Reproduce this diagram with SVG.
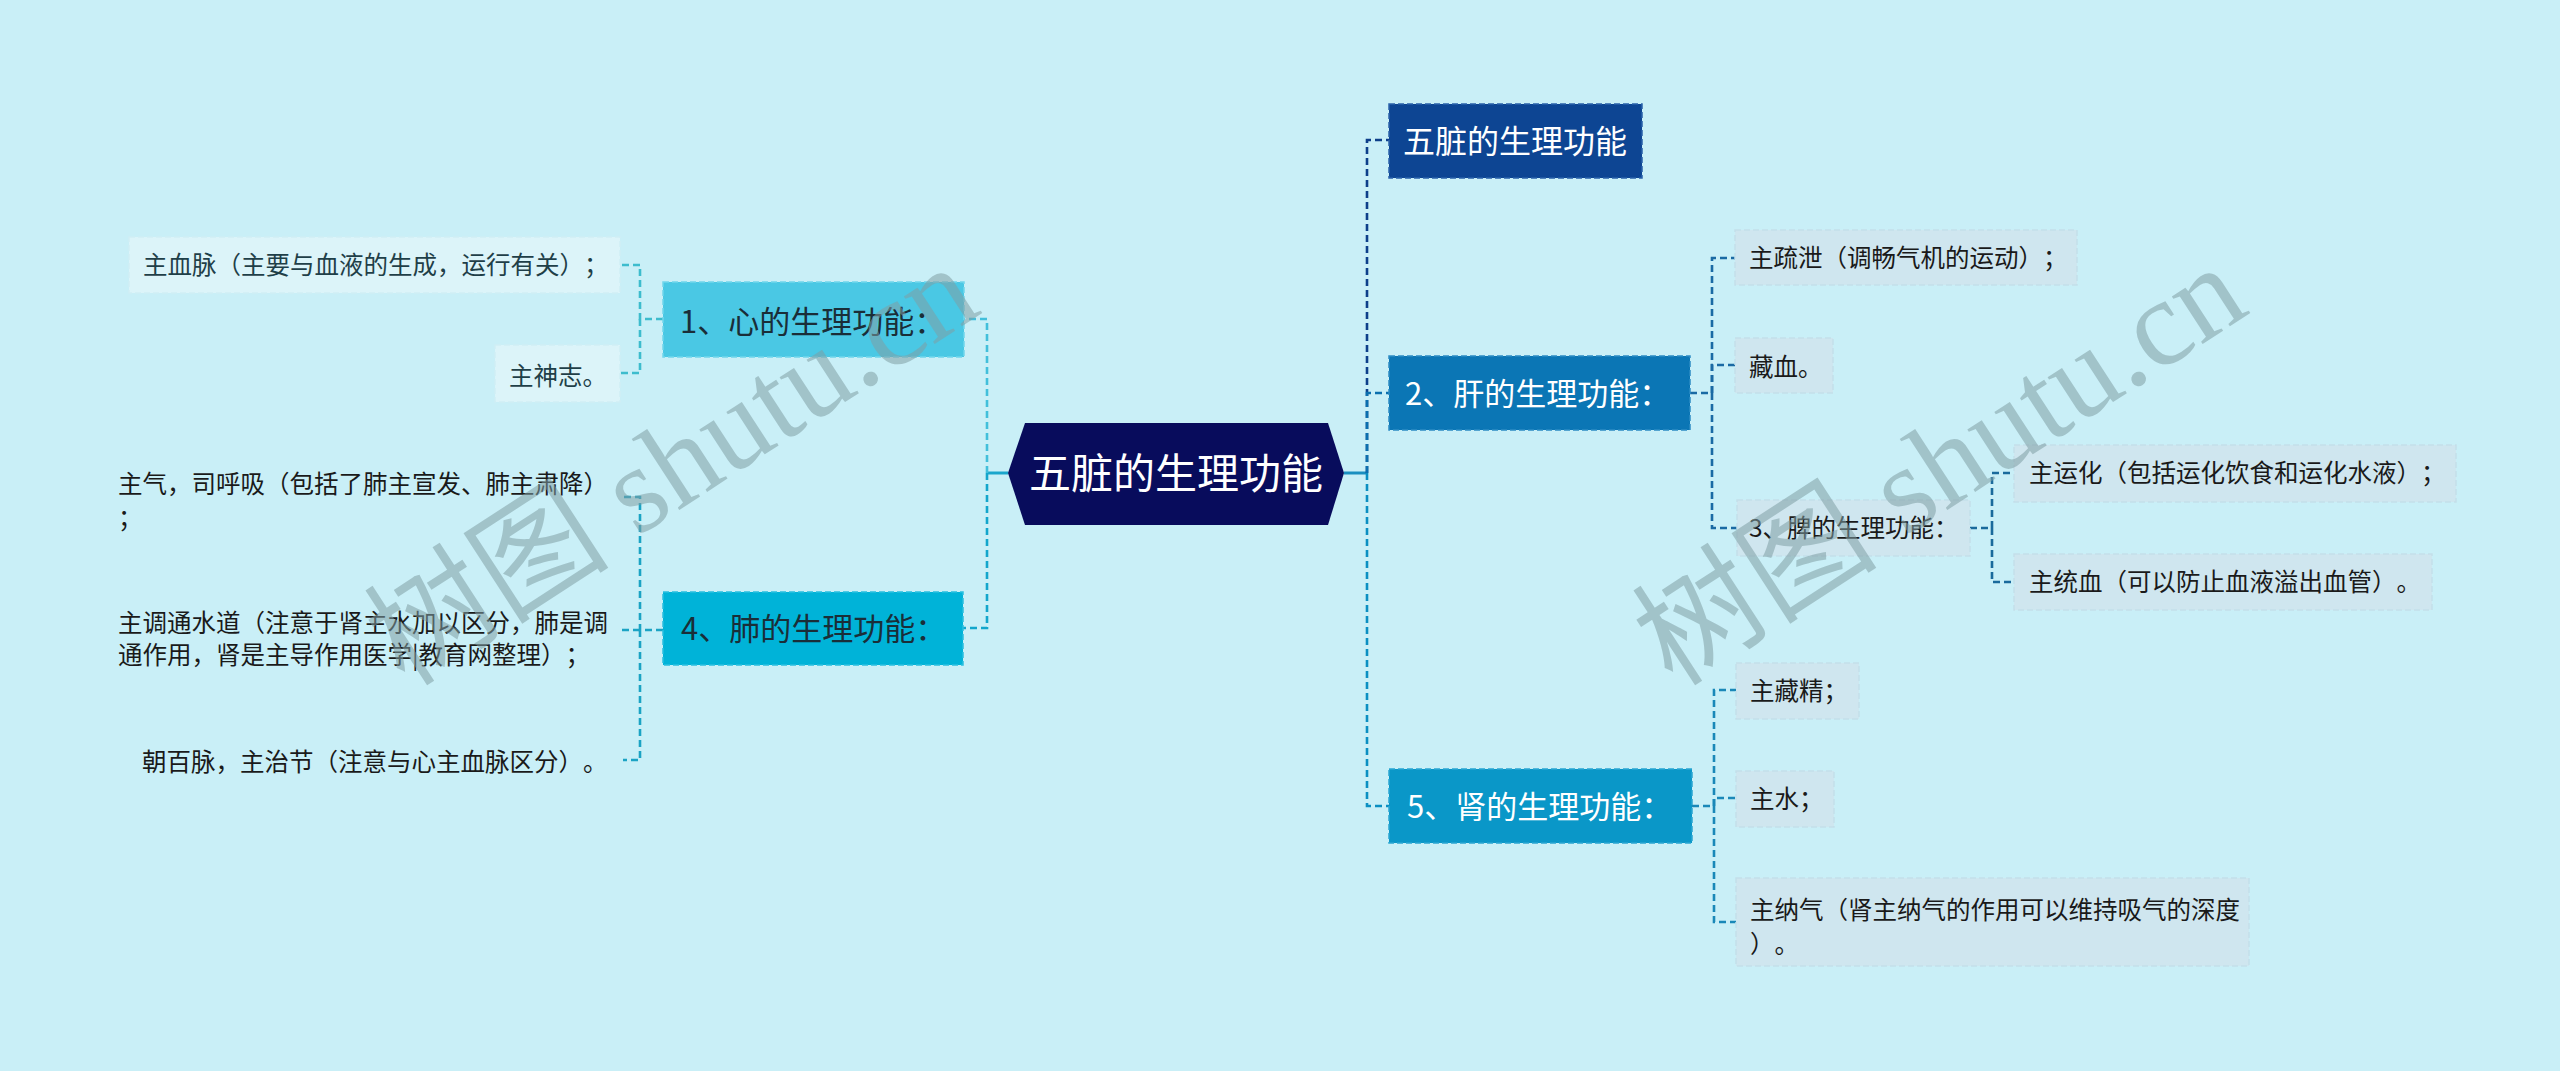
<svg xmlns="http://www.w3.org/2000/svg" width="2560" height="1071" viewBox="0 0 2560 1071">
<style>
text{font-family:"Noto Sans CJK SC","Noto Sans",sans-serif;text-spacing-trim:space-all;font-feature-settings:"halt" 0,"chws" 0}
.c{fill:none;stroke-width:2.6;stroke-dasharray:7 4}
.s{fill:none;stroke-width:3}
.lf{font-size:24.5px;fill:#1a1a1a}
.ll{font-size:24.5px;fill:#1f3f48}
.bx{stroke-width:1.5;stroke-dasharray:6 3}
.wm{font-size:123px;fill:#7f9ea4;fill-opacity:0.55}
</style>
<rect x="0" y="0" width="2560" height="1071" fill="#c9eff7"/>
<g id="connectors">
  <path class="s" d="M1008,473 H987" stroke="#1aa6cc"/>
  <path class="c" d="M987,473 V319 H964" stroke="#42bfdb"/>
  <path class="c" d="M987,473 V628 H963" stroke="#13a6cc"/>
  <path class="c" d="M663,319 H640 V265 H620" stroke="#3dbccd"/>
  <path class="c" d="M640,319 V373 H620" stroke="#3dbccd"/>
  <path class="c" d="M663,630 H640 V497 H623" stroke="#1ba3c4"/>
  <path class="c" d="M640,630 H620" stroke="#1ba3c4"/>
  <path class="c" d="M640,630 V760 H623" stroke="#1ba3c4"/>
  <path class="s" d="M1344,473 H1367" stroke="#1a8fc0"/>
  <path class="c" d="M1367,473 V140 H1389" stroke="#0d3f8a"/>
  <path class="c" d="M1367,473 V806 H1389" stroke="#0b8fc2"/>
  <path class="c" d="M1367,473 V393 H1389" stroke="#0b6fae"/>
  <path class="c" d="M1690,393 H1712 V258 H1735" stroke="#1a6aa4"/>
  <path class="c" d="M1712,393 V365 H1735" stroke="#1a6aa4"/>
  <path class="c" d="M1712,393 V528 H1737" stroke="#1a6aa4"/>
  <path class="c" d="M1970,528 H1992 V473 H2014" stroke="#1a6a9c"/>
  <path class="c" d="M1992,528 V582 H2014" stroke="#1a6a9c"/>
  <path class="c" d="M1692,806 H1714 V690 H1736" stroke="#1a88b8"/>
  <path class="c" d="M1714,806 V798 H1736" stroke="#1a88b8"/>
  <path class="c" d="M1714,806 V922 H1736" stroke="#1a88b8"/>
</g>
<g id="root">
  <polygon points="1008,473 1025,423 1328,423 1344,473 1328,525 1025,525" fill="#080c5c"/>
  <text x="1176" y="489" font-size="42" fill="#ffffff" text-anchor="middle">五脏的生理功能</text>
</g>
<g id="n-top">
  <rect class="bx" x="1389" y="104" width="253" height="74" fill="#0d4593" stroke="#2a62aa"/>
  <text x="1515" y="153" font-size="32" fill="#ffffff" text-anchor="middle">五脏的生理功能</text>
</g>
<g id="n-gan">
  <rect class="bx" x="1389" y="356" width="301" height="74" fill="#0b76b5" stroke="#2d8cc4"/>
  <text x="1405" y="405" font-size="31" fill="#ffffff">2、肝的生理功能：</text>
</g>
<g id="n-shen">
  <rect class="bx" x="1389" y="769" width="303" height="74" fill="#0a97c8" stroke="#2aa6d2"/>
  <text x="1407" y="818" font-size="31" fill="#ffffff">5、肾的生理功能：</text>
</g>
<g id="n-xin">
  <rect class="bx" x="663" y="282" width="301" height="75" fill="#4ac8e4" stroke="#72d6ec"/>
  <text x="680" y="333" font-size="31" fill="#1a2e38">1、心的生理功能：</text>
</g>
<g id="n-fei">
  <rect class="bx" x="663" y="592" width="300" height="73" fill="#00b3d8" stroke="#2ac0e0"/>
  <text x="681" y="640" font-size="31" fill="#1a2e38">4、肺的生理功能：</text>
</g>
<g id="l-xueme">
  <rect class="bx" x="129" y="237" width="491" height="56" fill="#dcf4f9" stroke="#d0eef5"/>
  <text class="ll" x="143" y="274">主血脉（主要与血液的生成，运行有关）；</text>
</g>
<g id="l-shenzhi">
  <rect class="bx" x="495" y="345" width="125" height="57" fill="#dcf4f9" stroke="#d0eef5"/>
  <text class="ll" x="509" y="385">主神志。</text>
</g>
<g id="l-zhuqi">
  <text class="lf" x="118" y="493">主气，司呼吸（包括了肺主宣发、肺主肃降）</text>
  <text class="lf" x="118" y="527">；</text>
</g>
<g id="l-shuidao">
  <text class="lf" x="118" y="632">主调通水道（注意于肾主水加以区分，肺是调</text>
  <text class="lf" x="118" y="664">通作用，肾是主导作用医学|教育网整理）；</text>
</g>
<g id="l-baimai">
  <text class="lf" x="142" y="771">朝百脉，主治节（注意与心主血脉区分）。</text>
</g>
<g id="r-shuxie">
  <rect class="bx" x="1735" y="230" width="342" height="55" fill="#cfe6ef" stroke="#c4dfea"/>
  <text class="lf" x="1749" y="267">主疏泄（调畅气机的运动）；</text>
</g>
<g id="r-cangxue">
  <rect class="bx" x="1735" y="338" width="98" height="55" fill="#cfe6ef" stroke="#c4dfea"/>
  <text class="lf" x="1749" y="376">藏血。</text>
</g>
<g id="r-pi">
  <rect class="bx" x="1737" y="500" width="233" height="56" fill="#cfe6ef" stroke="#c4dfea"/>
  <text class="lf" x="1749" y="537">3、脾的生理功能：</text>
</g>
<g id="r-yunhua">
  <rect class="bx" x="2014" y="445" width="442" height="57" fill="#cfe6ef" stroke="#c4dfea"/>
  <text class="lf" x="2029" y="482">主运化（包括运化饮食和运化水液）；</text>
</g>
<g id="r-tongxue">
  <rect class="bx" x="2014" y="554" width="418" height="56" fill="#cfe6ef" stroke="#c4dfea"/>
  <text class="lf" x="2029" y="591">主统血（可以防止血液溢出血管）。</text>
</g>
<g id="r-cangjing">
  <rect class="bx" x="1736" y="663" width="123" height="56" fill="#cfe6ef" stroke="#c4dfea"/>
  <text class="lf" x="1750" y="700">主藏精；</text>
</g>
<g id="r-zhushui">
  <rect class="bx" x="1736" y="771" width="98" height="56" fill="#cfe6ef" stroke="#c4dfea"/>
  <text class="lf" x="1750" y="808">主水；</text>
</g>
<g id="r-naqi">
  <rect class="bx" x="1736" y="878" width="513" height="88" fill="#cfe6ef" stroke="#c4dfea"/>
  <text class="lf" x="1750" y="919">主纳气（肾主纳气的作用可以维持吸气的深度</text>
  <text class="lf" x="1750" y="953">）。</text>
</g>
<g id="watermark">
  <text class="wm" transform="translate(405,688) rotate(-33)"><tspan>树图</tspan><tspan font-family="Liberation Serif,serif"> shutu.cn</tspan></text>
  <text class="wm" transform="translate(1673,688) rotate(-33)"><tspan>树图</tspan><tspan font-family="Liberation Serif,serif"> shutu.cn</tspan></text>
</g>
</svg>
